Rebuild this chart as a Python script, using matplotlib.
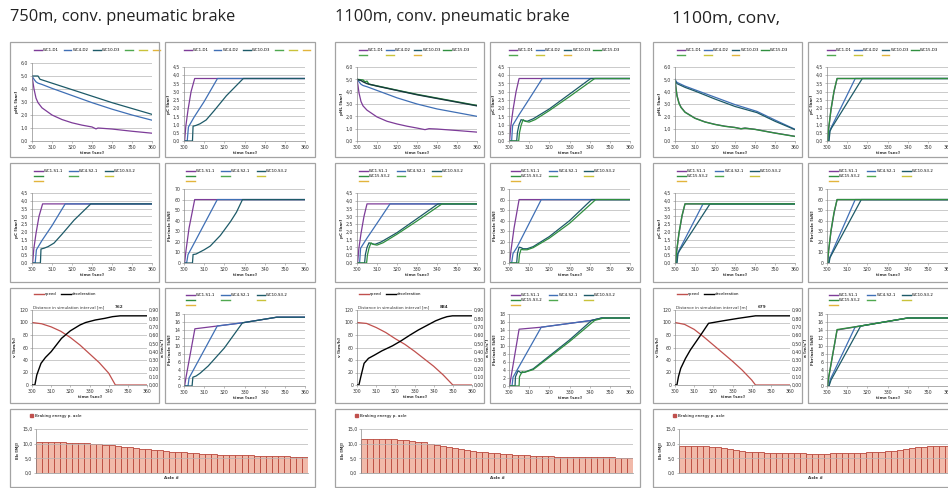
import matplotlib
matplotlib.use("Agg")
import matplotlib.pyplot as plt
from matplotlib.patches import Rectangle, Patch
from matplotlib.lines import Line2D

W, H = 948, 488

# ---------------- DATA ----------------
TITLES = ["750m, conv. pneumatic brake", "1100m, conv. pneumatic brake", "1100m, conv,"]
DISTANCES = ["762", "884", "679"]
TIME_TICKS = [300, 310, 320, 330, 340, 350, 360]

# group 1 (750m) - main pipe pressure
G1_HL_WC1_T = [300, 300.5, 301, 302, 303, 305, 310, 315, 320, 325, 330, 332, 333, 340, 350, 360]
G1_HL_WC1 = [5.0, 4.5, 4.0, 3.3, 2.95, 2.55, 2.0, 1.65, 1.4, 1.22, 1.08, 0.93, 1.0, 0.92, 0.75, 0.6]
G1_HL_WC4_T = [300, 301, 302, 303, 305, 310, 320, 330, 340, 350, 360]
G1_HL_WC4 = [5.0, 4.75, 4.55, 4.45, 4.35, 4.05, 3.5, 2.95, 2.45, 2.0, 1.6]
G1_HL_WC10_T = [300, 303, 304, 305, 310, 320, 330, 340, 350, 360]
G1_HL_WC10 = [5.0, 5.0, 4.75, 4.7, 4.45, 3.95, 3.45, 2.95, 2.5, 2.05]
# group 1 - brake cylinder pressure
G1_PC_WC1_T = [300, 300.3, 300.9, 302, 303.5, 305.3, 360]
G1_PC_WC1 = [0, 0, 0.9, 1.9, 3.0, 3.8, 3.8]
G1_PC_WC4_T = [300, 301.6, 302.2, 305, 310, 316.6, 360]
G1_PC_WC4 = [0, 0, 0.85, 1.45, 2.4, 3.8, 3.8]
G1_PC_WC10_T = [300, 304.2, 304.5, 306, 308, 311, 315, 321, 329.4, 360]
G1_PC_WC10 = [0, 0, 0.9, 0.95, 1.05, 1.28, 1.85, 2.75, 3.8, 3.8]
# group 1 - brake force per axle
G1_F_WC1_T = [300, 300.3, 301, 302.5, 305.3, 360]
G1_F_WC1 = [0, 0, 12, 33, 60, 60]
G1_F_WC4_T = [300, 301.3, 302, 304, 316.5, 360]
G1_F_WC4 = [0, 0, 8, 15, 60, 60]
G1_F_WC10_T = [300, 304.2, 304.5, 306, 308, 310, 313, 318, 323, 326, 329, 360]
G1_F_WC10 = [0, 0, 8, 8.5, 10.5, 12.5, 16, 26, 39, 48, 60, 60]
# group 1 - speed / deceleration
G1_V_T = [300, 305, 310, 315, 320, 325, 330, 335, 340, 343.5, 360]
G1_V = [100, 98, 93, 86, 76, 64, 50, 36, 19, 0, 0]
G1_A_T = [300, 301.5, 302.5, 304.7, 307, 310, 315.4, 320, 325, 328, 333, 338, 342, 346, 360]
G1_A = [0, 0, 0.12, 0.26, 0.33, 0.4, 0.56, 0.65, 0.72, 0.75, 0.78, 0.8, 0.82, 0.83, 0.83]
# group 1 - braking force (row 3)
G1_FB_WC1_T = [300, 300.3, 301, 305.4, 316.5, 329, 346, 360]
G1_FB_WC1 = [0, 0, 2.2, 14.3, 15.0, 15.8, 17.2, 17.2]
G1_FB_WC4_T = [300, 302, 302.5, 316.5, 329, 346, 360]
G1_FB_WC4 = [0, 0, 2.0, 15.0, 15.8, 17.2, 17.2]
G1_FB_WC10_T = [300, 304, 304.4, 306, 308, 312, 320, 329, 346, 360]
G1_FB_WC10 = [0, 0, 2.2, 2.5, 3.2, 5.0, 9.5, 15.8, 17.2, 17.2]
# group 1 - braking energy per axle
G1_ENERGY = [10.4, 10.4, 10.4, 10.4, 10.4, 10.3, 10.3, 10.2, 10.1, 10.0, 9.8, 9.6, 9.4, 9.2, 9.0,
             8.8, 8.5, 8.3, 8.1, 7.9, 7.7, 7.5, 7.3, 7.1, 7.0, 6.8, 6.7, 6.6, 6.5, 6.4,
             6.3, 6.2, 6.1, 6.1, 6.0, 6.0, 5.9, 5.9, 5.8, 5.8, 5.7, 5.7, 5.6, 5.6, 5.6]

# group 2 (1100m) - main pipe pressure
G2_HL_WC1_T = [300, 300.5, 301, 302, 303, 305, 310, 315, 320, 325, 330, 334, 336, 340, 350, 360]
G2_HL_WC1 = [5.0, 4.5, 3.9, 3.2, 2.85, 2.5, 1.95, 1.6, 1.38, 1.2, 1.05, 0.92, 1.0, 0.97, 0.85, 0.72]
G2_HL_WC4_T = [300, 301, 302, 303, 305, 310, 320, 330, 340, 350, 360]
G2_HL_WC4 = [5.0, 4.8, 4.6, 4.5, 4.4, 4.1, 3.5, 3.0, 2.6, 2.3, 2.0]
G2_HL_WC10_T = [300, 302, 303, 305, 310, 320, 330, 340, 350, 360]
G2_HL_WC10 = [5.0, 4.9, 4.8, 4.65, 4.45, 4.1, 3.75, 3.45, 3.15, 2.85]
G2_HL_WC15_T = [300, 303, 304, 305, 306, 310, 320, 330, 340, 350, 360]
G2_HL_WC15 = [5.0, 4.95, 4.8, 4.85, 4.6, 4.47, 4.12, 3.78, 3.48, 3.18, 2.88]
# group 2 - brake cylinder pressure
G2_PC_WC1_T = [300, 300.3, 300.9, 302, 303.5, 305, 360]
G2_PC_WC1 = [0, 0, 0.9, 1.9, 3.0, 3.8, 3.8]
G2_PC_WC4_T = [300, 301.3, 301.8, 305, 310, 316.5, 360]
G2_PC_WC4 = [0, 0, 0.95, 1.6, 2.55, 3.8, 3.8]
G2_PC_WC10_T = [300, 303.8, 304.2, 305, 306, 307, 309, 312, 320, 330, 340.5, 360]
G2_PC_WC10 = [0, 0, 0.55, 1.0, 1.3, 1.25, 1.2, 1.35, 1.95, 2.85, 3.8, 3.8]
G2_PC_WC15_T = [300, 304.8, 305.2, 306, 307, 308, 310, 313, 320, 330, 342.5, 360]
G2_PC_WC15 = [0, 0, 0.5, 0.95, 1.3, 1.2, 1.15, 1.3, 1.85, 2.7, 3.8, 3.8]
# group 2 - brake force per axle
G2_F_WC1_T = [300, 300.3, 301, 302.5, 305, 360]
G2_F_WC1 = [0, 0, 12, 33, 60, 60]
G2_F_WC4_T = [300, 301.3, 302, 304, 316, 360]
G2_F_WC4 = [0, 0, 9, 15, 60, 60]
G2_F_WC10_T = [300, 303.8, 304.2, 305, 306, 307, 309, 312, 320, 330, 341, 360]
G2_F_WC10 = [0, 0, 9, 15, 14.5, 13.5, 13.5, 15.5, 25, 40, 60, 60]
G2_F_WC15_T = [300, 304.8, 305.2, 306, 307, 309, 312, 320, 330, 343, 360]
G2_F_WC15 = [0, 0, 8, 13, 12.5, 12.5, 14.5, 23.5, 37.5, 60, 60]
# group 2 - speed / deceleration
G2_V_T = [300, 305, 310, 315, 320, 325, 330, 335, 340, 345, 350, 360]
G2_V = [100, 98.5, 92, 84, 74, 65, 54, 42, 30, 16, 0, 0]
G2_A_T = [300, 301, 302, 303.7, 306, 309.2, 313, 318.5, 323, 327.7, 332, 336.9, 341, 344.3, 347, 349.8, 360]
G2_A = [0, 0, 0.1, 0.26, 0.32, 0.36, 0.41, 0.47, 0.53, 0.6, 0.66, 0.72, 0.77, 0.8, 0.82, 0.83, 0.83]
# group 2 - braking force (row 3)
G2_FB_WC1_T = [300, 300.3, 301, 305, 316, 341, 346, 360]
G2_FB_WC1 = [0, 0, 2.2, 14.2, 14.7, 16.4, 17.0, 17.0]
G2_FB_WC4_T = [300, 301.5, 302, 316, 341, 346, 360]
G2_FB_WC4 = [0, 0, 2.2, 14.7, 16.4, 17.0, 17.0]
G2_FB_WC10_T = [300, 303, 303.2, 304.5, 306, 308, 312, 320, 330, 341, 346, 360]
G2_FB_WC10 = [0, 0, 2.3, 3.8, 3.3, 3.5, 4.3, 7.5, 11.5, 16.4, 17.0, 17.0]
G2_FB_WC15_T = [300, 305, 305.2, 306.5, 307.5, 312, 320, 330, 342.5, 347, 360]
G2_FB_WC15 = [0, 0, 2.3, 3.6, 3.4, 4.1, 7.2, 11.1, 16.4, 17.0, 17.0]
# group 2 - braking energy per axle
G2_ENERGY = [11.7, 11.7, 11.6, 11.6, 11.5, 11.5, 11.4, 11.2, 11.0, 10.7, 10.4, 10.0, 9.7, 9.3, 9.0,
             8.6, 8.3, 7.9, 7.6, 7.3, 7.1, 6.9, 6.7, 6.5, 6.4, 6.2, 6.1, 6.0, 5.9, 5.8,
             5.8, 5.7, 5.6, 5.6, 5.5, 5.5, 5.4, 5.4, 5.4, 5.3, 5.3, 5.3, 5.2, 5.2, 5.2]

# group 3 (1100m, conv,) - main pipe pressure
G3_HL_WC1_T = [300, 300.5, 301, 302, 303, 305, 310, 315, 320, 325, 330, 333, 335, 340, 350, 360]
G3_HL_WC1 = [5.0, 4.3, 3.7, 3.1, 2.75, 2.35, 1.85, 1.55, 1.35, 1.2, 1.1, 1.0, 1.05, 0.95, 0.65, 0.38]
G3_HL_WC15 = [4.95, 4.25, 3.65, 3.05, 2.72, 2.33, 1.84, 1.54, 1.34, 1.19, 1.09, 0.99, 1.04, 0.94, 0.64, 0.37]
G3_HL_WC4_T = [300, 301, 305, 310, 320, 330, 341, 350, 360]
G3_HL_WC4 = [5.0, 4.75, 4.45, 4.15, 3.55, 2.95, 2.4, 1.7, 0.95]
G3_HL_WC10 = [4.9, 4.65, 4.35, 4.05, 3.4, 2.8, 2.3, 1.6, 0.92]
# group 3 - brake cylinder pressure
G3_PC_WC1_T = [300, 300.3, 300.8, 302, 303.5, 305, 360]
G3_PC_WC1 = [0, 0, 0.7, 1.9, 3.0, 3.8, 3.8]
G3_PC_WC15 = [0, 0, 0.75, 1.95, 3.05, 3.8, 3.8]
G3_PC_WC4_T = [300, 300.8, 301.3, 302, 314, 360]
G3_PC_WC4 = [0, 0, 0.6, 0.8, 3.8, 3.8]
G3_PC_WC10_T = [300, 301, 301.5, 302.3, 317.5, 360]
G3_PC_WC10 = [0, 0, 0.6, 0.8, 3.8, 3.8]
# group 3 - brake force per axle
G3_F_WC1_T = [300, 300.3, 300.8, 302, 303.5, 305, 360]
G3_F_WC1 = [0, 0, 11, 30, 47, 60, 60]
G3_F_WC15 = [0, 0, 12, 31, 48, 60, 60]
G3_F_WC4_T = [300, 300.8, 301.3, 302, 314, 360]
G3_F_WC4 = [0, 0, 5, 8, 60, 60]
G3_F_WC10_T = [300, 301, 301.5, 302.3, 317, 360]
G3_F_WC10 = [0, 0, 5, 8, 60, 60]
# group 3 - speed / deceleration
G3_V_T = [300, 305, 310, 315, 320, 325, 330, 335, 340, 342, 360]
G3_V = [100, 97, 89, 77, 64, 51, 38, 24, 8, 0, 0]
G3_A_T = [300, 301, 301.8, 303, 305.5, 308, 311, 314, 317.5, 325, 333, 342, 360]
G3_A = [0, 0, 0.1, 0.2, 0.32, 0.42, 0.52, 0.62, 0.74, 0.77, 0.8, 0.83, 0.83]
# group 3 - braking force (row 3)
G3_FB_WC1_T = [300, 300.3, 300.8, 305, 316.7, 340, 360]
G3_FB_WC1 = [0, 0, 2.0, 14.0, 15.0, 17.0, 17.0]
G3_FB_WC15 = [0, 0, 2.1, 14.1, 15.0, 17.0, 17.0]
G3_FB_WC4_T = [300, 301, 301.5, 314, 316.7, 340, 360]
G3_FB_WC4 = [0, 0, 1.5, 14.8, 15.0, 17.0, 17.0]
G3_FB_WC10_T = [300, 301, 302, 316.7, 340, 360]
G3_FB_WC10 = [0, 0, 1.5, 15.0, 17.0, 17.0]
# group 3 - braking energy per axle
G3_ENERGY = [9.2, 9.3, 9.3, 9.2, 9.2, 9.0, 8.7, 8.4, 8.1, 7.8, 7.5, 7.3, 7.1, 7.0, 6.9,
             6.8, 6.8, 6.7, 6.7, 6.7, 6.7, 6.6, 6.6, 6.6, 6.6, 6.7, 6.7, 6.7, 6.8, 6.8,
             6.9, 7.0, 7.1, 7.2, 7.4, 7.6, 7.8, 8.1, 8.4, 8.7, 9.0, 9.2, 9.3, 9.3, 9.3]

# ---------------- STYLE ----------------
PURPLE = "#7d3c98"
BLUE = "#3f6fb5"
TEAL = "#1d5a68"
GREEN = "#2f8f3f"
LGREEN = "#4fa84f"
YELLOW = "#c9c23a"
ORANGE = "#e2b43c"
RED = "#c0504d"
BOX = "#a3a3a3"
GRID = "#b5b5b5"
TXT = "#333333"
TICK_FS = 3.3

GX = [10, 335, 653]
ROWS = [(42, 157), (163, 282), (288, 403), (409, 487)]

fig = plt.figure(figsize=(W / 100, H / 100), dpi=100)
fig.patch.set_facecolor("white")


def rect(x0, y0, x1, y1):
    return [x0 / W, 1 - y1 / H, (x1 - x0) / W, (y1 - y0) / H]


def box(x0, y0, x1, y1):
    fig.add_artist(Rectangle((x0 / W, 1 - y1 / H), (x1 - x0) / W, (y1 - y0) / H,
                             transform=fig.transFigure, fill=False, ec=BOX, lw=0.9))


def comma(v, nd):
    return f"{v:.{nd}f}".replace(".", ",")


def base_axes(x0, y0, x1, y1, yticks, nd, ylabel):
    ax = fig.add_axes(rect(x0, y0, x1, y1))
    ax.set_ylim(yticks[0], yticks[-1])
    ax.set_yticks(yticks)
    ax.set_yticklabels([comma(v, nd) for v in yticks])
    ax.grid(axis="y", color=GRID, lw=0.5)
    ax.set_axisbelow(True)
    for s in ["top", "right"]:
        ax.spines[s].set_visible(False)
    for s in ["left", "bottom"]:
        ax.spines[s].set_color("#8c8c8c")
        ax.spines[s].set_linewidth(0.5)
    ax.tick_params(labelsize=TICK_FS, length=1.2, width=0.4, pad=1.5,
                   colors="#8c8c8c", labelcolor=TXT)
    ax.set_ylabel(ylabel, fontsize=3, fontweight="bold", labelpad=1.5, color=TXT)
    return ax


def time_axes(x0, y0, x1, y1, yticks, nd, ylabel):
    ax = base_axes(x0, y0, x1, y1, yticks, nd, ylabel)
    ax.set_xlim(300, 360)
    ax.set_xticks(TIME_TICKS)
    ax.set_xlabel("time [sec]", fontsize=3, fontweight="bold", labelpad=1, color=TXT)
    return ax


def legend(ax, labels, colors, ncol, x, y, spacing=1.0, hl=2.2):
    handles = [Line2D([], [], color=c, lw=1.0) for c in colors]
    n = len(handles)
    order = [i for c in range(ncol) for i in range(c, n, ncol)]
    ax.legend([handles[i] for i in order], [labels[i] for i in order], ncol=ncol,
              loc="upper left", bbox_to_anchor=(x / W, 1 - y / H),
              bbox_transform=fig.transFigure, frameon=False, fontsize=2.8,
              handlelength=hl, handletextpad=0.3, columnspacing=spacing,
              borderaxespad=0, borderpad=0, labelspacing=0.3)


def draw(ax, series):
    for t, v, c, lw in series:
        ax.plot(t, v, color=c, lw=lw, solid_joinstyle="round")


D_LABELS_1 = ["WC1-D1", "WC4-D2", "WC10-D3", "", "", ""]
D_COLORS_1 = [PURPLE, BLUE, TEAL, LGREEN, YELLOW, ORANGE]
D_LABELS = ["WC1-D1", "WC4-D2", "WC10-D3", "WC15-D3", "", "", ""]
D_COLORS = [PURPLE, BLUE, TEAL, GREEN, LGREEN, YELLOW, ORANGE]
S_LABELS_1 = ["WC1-S1-1", "WC4-S2-1", "WC10-S3-2", "", "", "", ""]
S_COLORS_1 = [PURPLE, BLUE, TEAL, GREEN, LGREEN, YELLOW, ORANGE]
S_LABELS = ["WC1-S1-1", "WC4-S2-1", "WC10-S3-2", "WC15-S3-2", "", "", ""]
S_COLORS = [PURPLE, BLUE, TEAL, GREEN, LGREEN, YELLOW, ORANGE]

HL_SERIES = [
    [(G1_HL_WC1_T, G1_HL_WC1, PURPLE, 0.9), (G1_HL_WC4_T, G1_HL_WC4, BLUE, 0.9),
     (G1_HL_WC10_T, G1_HL_WC10, TEAL, 0.9)],
    [(G2_HL_WC1_T, G2_HL_WC1, PURPLE, 0.9), (G2_HL_WC4_T, G2_HL_WC4, BLUE, 0.9),
     (G2_HL_WC15_T, G2_HL_WC15, GREEN, 1.0), (G2_HL_WC10_T, G2_HL_WC10, "#16393d", 1.0)],
    [(G3_HL_WC1_T, G3_HL_WC1, PURPLE, 0.9), (G3_HL_WC4_T, G3_HL_WC4, BLUE, 0.9),
     (G3_HL_WC4_T, G3_HL_WC10, TEAL, 0.9), (G3_HL_WC1_T, G3_HL_WC15, GREEN, 1.0)],
]
PC_SERIES = [
    [(G1_PC_WC1_T, G1_PC_WC1, PURPLE, 0.9), (G1_PC_WC4_T, G1_PC_WC4, BLUE, 0.9),
     (G1_PC_WC10_T, G1_PC_WC10, TEAL, 0.9)],
    [(G2_PC_WC1_T, G2_PC_WC1, PURPLE, 0.9), (G2_PC_WC4_T, G2_PC_WC4, BLUE, 0.9),
     (G2_PC_WC10_T, G2_PC_WC10, TEAL, 0.9), (G2_PC_WC15_T, G2_PC_WC15, GREEN, 0.9)],
    [(G3_PC_WC1_T, G3_PC_WC1, PURPLE, 0.9), (G3_PC_WC4_T, G3_PC_WC4, BLUE, 0.9),
     (G3_PC_WC10_T, G3_PC_WC10, TEAL, 0.9), (G3_PC_WC1_T, G3_PC_WC15, GREEN, 1.0)],
]
F_SERIES = [
    [(G1_F_WC1_T, G1_F_WC1, PURPLE, 0.9), (G1_F_WC4_T, G1_F_WC4, BLUE, 0.9),
     (G1_F_WC10_T, G1_F_WC10, TEAL, 0.9)],
    [(G2_F_WC1_T, G2_F_WC1, PURPLE, 0.9), (G2_F_WC4_T, G2_F_WC4, BLUE, 0.9),
     (G2_F_WC10_T, G2_F_WC10, TEAL, 0.9), (G2_F_WC15_T, G2_F_WC15, GREEN, 0.9)],
    [(G3_F_WC1_T, G3_F_WC1, PURPLE, 0.9), (G3_F_WC4_T, G3_F_WC4, BLUE, 0.9),
     (G3_F_WC10_T, G3_F_WC10, TEAL, 0.9), (G3_F_WC1_T, G3_F_WC15, GREEN, 1.0)],
]
FB_SERIES = [
    [(G1_FB_WC1_T, G1_FB_WC1, PURPLE, 0.9), (G1_FB_WC4_T, G1_FB_WC4, BLUE, 0.9),
     (G1_FB_WC10_T, G1_FB_WC10, TEAL, 0.9)],
    [(G2_FB_WC1_T, G2_FB_WC1, PURPLE, 0.9), (G2_FB_WC4_T, G2_FB_WC4, BLUE, 0.9),
     (G2_FB_WC10_T, G2_FB_WC10, TEAL, 0.9), (G2_FB_WC15_T, G2_FB_WC15, GREEN, 0.9)],
    [(G3_FB_WC1_T, G3_FB_WC1, PURPLE, 0.9), (G3_FB_WC4_T, G3_FB_WC4, BLUE, 0.9),
     (G3_FB_WC10_T, G3_FB_WC10, TEAL, 0.9), (G3_FB_WC1_T, G3_FB_WC15, GREEN, 1.0)],
]
SPEED = [(G1_V_T, G1_V, G1_A_T, G1_A), (G2_V_T, G2_V, G2_A_T, G2_A), (G3_V_T, G3_V, G3_A_T, G3_A)]
ENERGY = [G1_ENERGY, G2_ENERGY, G3_ENERGY]

TITLE_POS = [(10, 17), (335, 17), (672, 19)]
TITLE_FS = [11.8, 11.8, 12.6]

for g in range(3):
    gx = GX[g]
    lx0, lx1 = gx, gx + 149
    rx0, rx1 = gx + 155, gx + 305
    dl, dc = (D_LABELS_1, D_COLORS_1) if g == 0 else (D_LABELS, D_COLORS)
    sl, sc = (S_LABELS_1, S_COLORS_1) if g == 0 else (S_LABELS, S_COLORS)
    dn = 6 if g == 0 else 4
    dsp = 1.2 if g == 0 else 0.6

    fig.text(TITLE_POS[g][0] / W, 1 - TITLE_POS[g][1] / H, TITLES[g], fontsize=TITLE_FS[g],
             family="Open Sans", color="#222222", va="center", ha="left")

    # row 1
    y0, y1 = ROWS[0]
    box(lx0, y0, lx1, y1)
    box(rx0, y0, rx1, y1)
    top = 63 if g == 0 else 67
    ax = time_axes(gx + 22, top, gx + 142, 141, [0, 1, 2, 3, 4, 5, 6], 1, "pHL [bar]")
    draw(ax, HL_SERIES[g])
    legend(ax, dl, dc, dn, gx + 24, y0 + 6, spacing=dsp, hl=2.0)
    ax = time_axes(gx + 174, 67, gx + 295, 141, [0, 0.5, 1, 1.5, 2, 2.5, 3, 3.5, 4, 4.5], 1, "pC [bar]")
    draw(ax, PC_SERIES[g])
    legend(ax, dl, dc, dn, gx + 174, y0 + 6, spacing=dsp, hl=2.0)

    # row 2
    y0, y1 = ROWS[1]
    box(lx0, y0, lx1, y1)
    box(rx0, y0, rx1, y1)
    ax = time_axes(gx + 22, 193, gx + 142, 263, [0, 0.5, 1, 1.5, 2, 2.5, 3, 3.5, 4, 4.5], 1, "pC [bar]")
    draw(ax, PC_SERIES[g])
    legend(ax, sl, sc, 3, gx + 24, y0 + 6, spacing=1.6)
    ax = time_axes(gx + 174, 189, gx + 295, 263, [0, 10, 20, 30, 40, 50, 60, 70], 0, "Fbr/axle [kN]")
    draw(ax, F_SERIES[g])
    legend(ax, sl, sc, 3, gx + 176, y0 + 6, spacing=1.6)

    # row 3
    y0, y1 = ROWS[2]
    box(lx0, y0, lx1, y1)
    box(rx0, y0, rx1, y1)
    vt, v, at, a = SPEED[g]
    ax = time_axes(gx + 22, 310, gx + 137, 385, [0, 20, 40, 60, 80, 100, 120], 0, "v [km/h]")
    ax.plot(vt, v, color=RED, lw=0.9)
    ax2 = ax.twinx()
    ax2.set_ylim(0, 0.9)
    yt = [0, 0.1, 0.2, 0.3, 0.4, 0.5, 0.6, 0.7, 0.8, 0.9]
    ax2.set_yticks(yt)
    ax2.set_yticklabels([comma(x, 2) for x in yt])
    ax2.plot(at, a, color="black", lw=1.0)
    for s in ax2.spines.values():
        s.set_visible(False)
    ax2.tick_params(labelsize=TICK_FS, length=0, pad=1.5, labelcolor=TXT)
    ax2.set_ylabel("a [m/s²]", fontsize=3, fontweight="bold", labelpad=1.5, color=TXT)
    ax2.legend([Line2D([], [], color=RED, lw=1), Line2D([], [], color="black", lw=1)],
               ["speed", "deceleration"], ncol=2, loc="upper left",
               bbox_to_anchor=((gx + 24) / W, 1 - (y0 + 4) / H), bbox_transform=fig.transFigure,
               frameon=False, fontsize=2.8, handlelength=2.6, handletextpad=0.3,
               columnspacing=1.0, borderaxespad=0, borderpad=0)
    fig.text((gx + 23) / W, 1 - (y0 + 19) / H, "Distance in simulation interval [m]",
             fontsize=3, color=TXT, va="center", ha="left")
    fig.text((gx + 105) / W, 1 - (y0 + 19) / H, DISTANCES[g],
             fontsize=3, fontweight="bold", color=TXT, va="center", ha="left")
    ax = time_axes(gx + 174, 314, gx + 295, 386, [0, 2, 4, 6, 8, 10, 12, 14, 16, 18], 0, "Fbr/axle [kN]")
    draw(ax, FB_SERIES[g])
    legend(ax, sl, sc, 3, gx + 176, y0 + 5, spacing=1.6)

    # row 4
    y0, y1 = ROWS[3]
    box(gx, y0, gx + 305, y1)
    ax = base_axes(gx + 26, 429, gx + 298, 473, [0, 5, 10, 15], 1, "Eb [MJ]")
    e = ENERGY[g]
    ax.bar(range(1, len(e) + 1), e, width=1.0, color="#f1b9a9", edgecolor="#b9473c", lw=0.6)
    ax.set_xlim(0.5, len(e) + 0.5)
    ax.set_xticks([])
    ax.set_axisbelow(False)
    ax.set_xlabel("Axle #", fontsize=3, fontweight="bold", labelpad=2.5, color=TXT)
    ax.legend([Patch(facecolor=RED, edgecolor=RED)], ["Braking energy p. axle"], loc="upper left",
              bbox_to_anchor=((gx + 20) / W, 1 - (y0 + 5) / H), bbox_transform=fig.transFigure,
              frameon=False, fontsize=3, handlelength=0.8, handleheight=0.8, handletextpad=0.3,
              borderaxespad=0, borderpad=0)

fig.savefig("out.png", dpi=100, facecolor="white")
